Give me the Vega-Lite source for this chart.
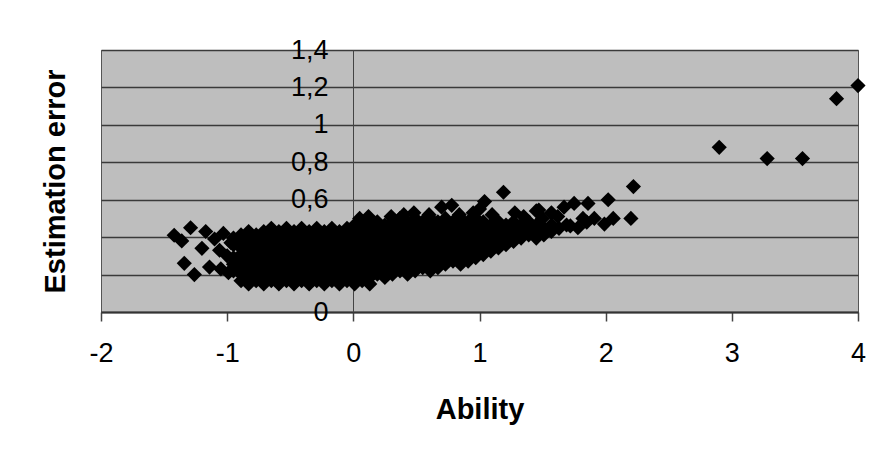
{
"$schema": "https://vega.github.io/schema/vega-lite/v6.json",
"width": 757, "height": 262,
"autosize": {"type": "none"},
"padding": {"left": 101, "top": 50, "right": 31, "bottom": 145},
"background": "white",
"config": {"view": {"fill": "#bebebe", "stroke": "#555555", "strokeWidth": 1}, "font": "Liberation Sans"},
"data": {"values": [
{"ability":-0.95,"error":0.22},{"ability":-0.95,"error":0.255},{"ability":-0.95,"error":0.29},{"ability":-0.95,"error":0.36},{"ability":-0.95,"error":0.395},
{"ability":-0.89,"error":0.167},{"ability":-0.89,"error":0.202},{"ability":-0.89,"error":0.237},{"ability":-0.89,"error":0.272},{"ability":-0.89,"error":0.307},{"ability":-0.89,"error":0.342},{"ability":-0.89,"error":0.377},{"ability":-0.89,"error":0.412},
{"ability":-0.83,"error":0.15},{"ability":-0.83,"error":0.185},{"ability":-0.83,"error":0.22},{"ability":-0.83,"error":0.255},{"ability":-0.83,"error":0.29},{"ability":-0.83,"error":0.325},{"ability":-0.83,"error":0.36},{"ability":-0.83,"error":0.395},{"ability":-0.83,"error":0.43},
{"ability":-0.77,"error":0.167},{"ability":-0.77,"error":0.202},{"ability":-0.77,"error":0.237},{"ability":-0.77,"error":0.272},{"ability":-0.77,"error":0.307},{"ability":-0.77,"error":0.342},{"ability":-0.77,"error":0.377},{"ability":-0.77,"error":0.412},
{"ability":-0.71,"error":0.15},{"ability":-0.71,"error":0.185},{"ability":-0.71,"error":0.22},{"ability":-0.71,"error":0.255},{"ability":-0.71,"error":0.29},{"ability":-0.71,"error":0.325},{"ability":-0.71,"error":0.36},{"ability":-0.71,"error":0.395},{"ability":-0.71,"error":0.43},
{"ability":-0.65,"error":0.167},{"ability":-0.65,"error":0.202},{"ability":-0.65,"error":0.237},{"ability":-0.65,"error":0.272},{"ability":-0.65,"error":0.307},{"ability":-0.65,"error":0.342},{"ability":-0.65,"error":0.377},{"ability":-0.65,"error":0.412},{"ability":-0.65,"error":0.447},
{"ability":-0.59,"error":0.15},{"ability":-0.59,"error":0.185},{"ability":-0.59,"error":0.22},{"ability":-0.59,"error":0.255},{"ability":-0.59,"error":0.29},{"ability":-0.59,"error":0.325},{"ability":-0.59,"error":0.36},{"ability":-0.59,"error":0.395},{"ability":-0.59,"error":0.43},
{"ability":-0.53,"error":0.167},{"ability":-0.53,"error":0.202},{"ability":-0.53,"error":0.237},{"ability":-0.53,"error":0.272},{"ability":-0.53,"error":0.307},{"ability":-0.53,"error":0.342},{"ability":-0.53,"error":0.377},{"ability":-0.53,"error":0.412},{"ability":-0.53,"error":0.447},
{"ability":-0.47,"error":0.15},{"ability":-0.47,"error":0.185},{"ability":-0.47,"error":0.22},{"ability":-0.47,"error":0.255},{"ability":-0.47,"error":0.29},{"ability":-0.47,"error":0.325},{"ability":-0.47,"error":0.36},{"ability":-0.47,"error":0.395},{"ability":-0.47,"error":0.43},
{"ability":-0.41,"error":0.167},{"ability":-0.41,"error":0.202},{"ability":-0.41,"error":0.237},{"ability":-0.41,"error":0.272},{"ability":-0.41,"error":0.307},{"ability":-0.41,"error":0.342},{"ability":-0.41,"error":0.377},{"ability":-0.41,"error":0.412},{"ability":-0.41,"error":0.447},
{"ability":-0.35,"error":0.15},{"ability":-0.35,"error":0.185},{"ability":-0.35,"error":0.22},{"ability":-0.35,"error":0.255},{"ability":-0.35,"error":0.29},{"ability":-0.35,"error":0.325},{"ability":-0.35,"error":0.36},{"ability":-0.35,"error":0.395},{"ability":-0.35,"error":0.43},
{"ability":-0.29,"error":0.167},{"ability":-0.29,"error":0.202},{"ability":-0.29,"error":0.237},{"ability":-0.29,"error":0.272},{"ability":-0.29,"error":0.307},{"ability":-0.29,"error":0.342},{"ability":-0.29,"error":0.377},{"ability":-0.29,"error":0.412},{"ability":-0.29,"error":0.447},
{"ability":-0.23,"error":0.15},{"ability":-0.23,"error":0.185},{"ability":-0.23,"error":0.22},{"ability":-0.23,"error":0.255},{"ability":-0.23,"error":0.29},{"ability":-0.23,"error":0.325},{"ability":-0.23,"error":0.36},{"ability":-0.23,"error":0.395},{"ability":-0.23,"error":0.43},
{"ability":-0.17,"error":0.167},{"ability":-0.17,"error":0.202},{"ability":-0.17,"error":0.237},{"ability":-0.17,"error":0.272},{"ability":-0.17,"error":0.307},{"ability":-0.17,"error":0.342},{"ability":-0.17,"error":0.377},{"ability":-0.17,"error":0.412},{"ability":-0.17,"error":0.447},
{"ability":-0.11,"error":0.15},{"ability":-0.11,"error":0.185},{"ability":-0.11,"error":0.22},{"ability":-0.11,"error":0.255},{"ability":-0.11,"error":0.29},{"ability":-0.11,"error":0.325},{"ability":-0.11,"error":0.36},{"ability":-0.11,"error":0.395},{"ability":-0.11,"error":0.43},
{"ability":-0.05,"error":0.167},{"ability":-0.05,"error":0.202},{"ability":-0.05,"error":0.237},{"ability":-0.05,"error":0.272},{"ability":-0.05,"error":0.307},{"ability":-0.05,"error":0.342},{"ability":-0.05,"error":0.377},{"ability":-0.05,"error":0.412},{"ability":-0.05,"error":0.447},
{"ability":0.01,"error":0.15},{"ability":0.01,"error":0.185},{"ability":0.01,"error":0.22},{"ability":0.01,"error":0.255},{"ability":0.01,"error":0.29},{"ability":0.01,"error":0.325},{"ability":0.01,"error":0.36},{"ability":0.01,"error":0.395},{"ability":0.01,"error":0.43},{"ability":0.01,"error":0.465},
{"ability":0.07,"error":0.167},{"ability":0.07,"error":0.202},{"ability":0.07,"error":0.237},{"ability":0.07,"error":0.272},{"ability":0.07,"error":0.307},{"ability":0.07,"error":0.342},{"ability":0.07,"error":0.377},{"ability":0.07,"error":0.412},{"ability":0.07,"error":0.447},{"ability":0.07,"error":0.482},
{"ability":0.13,"error":0.15},{"ability":0.13,"error":0.185},{"ability":0.13,"error":0.22},{"ability":0.13,"error":0.255},{"ability":0.13,"error":0.29},{"ability":0.13,"error":0.325},{"ability":0.13,"error":0.36},{"ability":0.13,"error":0.395},{"ability":0.13,"error":0.43},{"ability":0.13,"error":0.465},
{"ability":0.19,"error":0.202},{"ability":0.19,"error":0.237},{"ability":0.19,"error":0.272},{"ability":0.19,"error":0.307},{"ability":0.19,"error":0.342},{"ability":0.19,"error":0.377},{"ability":0.19,"error":0.412},{"ability":0.19,"error":0.447},{"ability":0.19,"error":0.482},
{"ability":0.25,"error":0.185},{"ability":0.25,"error":0.22},{"ability":0.25,"error":0.255},{"ability":0.25,"error":0.29},{"ability":0.25,"error":0.325},{"ability":0.25,"error":0.36},{"ability":0.25,"error":0.395},{"ability":0.25,"error":0.43},{"ability":0.25,"error":0.465},
{"ability":0.31,"error":0.202},{"ability":0.31,"error":0.237},{"ability":0.31,"error":0.272},{"ability":0.31,"error":0.307},{"ability":0.31,"error":0.342},{"ability":0.31,"error":0.377},{"ability":0.31,"error":0.412},{"ability":0.31,"error":0.447},{"ability":0.31,"error":0.482},
{"ability":0.37,"error":0.22},{"ability":0.37,"error":0.255},{"ability":0.37,"error":0.29},{"ability":0.37,"error":0.325},{"ability":0.37,"error":0.36},{"ability":0.37,"error":0.395},{"ability":0.37,"error":0.43},{"ability":0.37,"error":0.465},{"ability":0.37,"error":0.5},
{"ability":0.43,"error":0.202},{"ability":0.43,"error":0.237},{"ability":0.43,"error":0.272},{"ability":0.43,"error":0.307},{"ability":0.43,"error":0.342},{"ability":0.43,"error":0.377},{"ability":0.43,"error":0.412},{"ability":0.43,"error":0.447},{"ability":0.43,"error":0.482},
{"ability":0.49,"error":0.22},{"ability":0.49,"error":0.255},{"ability":0.49,"error":0.29},{"ability":0.49,"error":0.325},{"ability":0.49,"error":0.36},{"ability":0.49,"error":0.395},{"ability":0.49,"error":0.43},{"ability":0.49,"error":0.465},{"ability":0.49,"error":0.5},
{"ability":0.55,"error":0.237},{"ability":0.55,"error":0.272},{"ability":0.55,"error":0.307},{"ability":0.55,"error":0.342},{"ability":0.55,"error":0.377},{"ability":0.55,"error":0.412},{"ability":0.55,"error":0.447},{"ability":0.55,"error":0.482},
{"ability":0.61,"error":0.22},{"ability":0.61,"error":0.255},{"ability":0.61,"error":0.29},{"ability":0.61,"error":0.325},{"ability":0.61,"error":0.36},{"ability":0.61,"error":0.395},{"ability":0.61,"error":0.43},{"ability":0.61,"error":0.465},{"ability":0.61,"error":0.5},
{"ability":0.67,"error":0.237},{"ability":0.67,"error":0.272},{"ability":0.67,"error":0.307},{"ability":0.67,"error":0.342},{"ability":0.67,"error":0.377},{"ability":0.67,"error":0.412},{"ability":0.67,"error":0.447},{"ability":0.67,"error":0.482},
{"ability":0.73,"error":0.255},{"ability":0.73,"error":0.29},{"ability":0.73,"error":0.325},{"ability":0.73,"error":0.36},{"ability":0.73,"error":0.395},{"ability":0.73,"error":0.43},{"ability":0.73,"error":0.465},{"ability":0.73,"error":0.5},
{"ability":0.79,"error":0.272},{"ability":0.79,"error":0.307},{"ability":0.79,"error":0.342},{"ability":0.79,"error":0.377},{"ability":0.79,"error":0.412},{"ability":0.79,"error":0.447},{"ability":0.79,"error":0.482},
{"ability":0.85,"error":0.255},{"ability":0.85,"error":0.29},{"ability":0.85,"error":0.325},{"ability":0.85,"error":0.36},{"ability":0.85,"error":0.395},{"ability":0.85,"error":0.43},{"ability":0.85,"error":0.465},{"ability":0.85,"error":0.5},
{"ability":0.91,"error":0.272},{"ability":0.91,"error":0.307},{"ability":0.91,"error":0.342},{"ability":0.91,"error":0.377},{"ability":0.91,"error":0.412},{"ability":0.91,"error":0.447},{"ability":0.91,"error":0.482},
{"ability":0.97,"error":0.29},{"ability":0.97,"error":0.325},{"ability":0.97,"error":0.36},{"ability":0.97,"error":0.395},{"ability":0.97,"error":0.43},{"ability":0.97,"error":0.465},{"ability":0.97,"error":0.5},
{"ability":1.03,"error":0.307},{"ability":1.03,"error":0.342},{"ability":1.03,"error":0.377},{"ability":1.03,"error":0.412},{"ability":1.03,"error":0.447},{"ability":1.03,"error":0.482},
{"ability":1.09,"error":0.325},{"ability":1.09,"error":0.36},{"ability":1.09,"error":0.395},{"ability":1.09,"error":0.43},{"ability":1.09,"error":0.465},
{"ability":1.15,"error":0.342},{"ability":1.15,"error":0.377},{"ability":1.15,"error":0.412},{"ability":1.15,"error":0.447},{"ability":1.15,"error":0.482},
{"ability":1.21,"error":0.36},{"ability":1.21,"error":0.395},{"ability":1.21,"error":0.43},{"ability":1.21,"error":0.465},
{"ability":1.27,"error":0.377},{"ability":1.27,"error":0.412},{"ability":1.27,"error":0.447},{"ability":1.27,"error":0.482},
{"ability":1.33,"error":0.395},{"ability":1.33,"error":0.43},{"ability":1.33,"error":0.465},
{"ability":1.39,"error":0.412},{"ability":1.39,"error":0.447},{"ability":1.39,"error":0.482},
{"ability":1.45,"error":0.395},{"ability":1.45,"error":0.43},{"ability":1.45,"error":0.465},
{"ability":1.51,"error":0.412},{"ability":1.51,"error":0.447},
{"ability":1.57,"error":0.43},{"ability":1.57,"error":0.465},
{"ability":1.63,"error":0.447},
{"ability":1.69,"error":0.465},
{"ability":-1.42,"error":0.41},{"ability":-1.36,"error":0.38},{"ability":-1.29,"error":0.45},{"ability":-1.34,"error":0.26},{"ability":-1.26,"error":0.2},{"ability":-1.17,"error":0.43},{"ability":-1.2,"error":0.34},{"ability":-1.14,"error":0.24},{"ability":-1.05,"error":0.23},{"ability":-1.03,"error":0.42},{"ability":-1.06,"error":0.33},{"ability":-0.99,"error":0.21},{"ability":-1.1,"error":0.39},{"ability":-1.0,"error":0.3},{"ability":-0.97,"error":0.37},
{"ability":0.05,"error":0.5},{"ability":0.12,"error":0.51},{"ability":0.3,"error":0.51},{"ability":0.4,"error":0.52},{"ability":0.48,"error":0.53},{"ability":0.6,"error":0.52},{"ability":0.7,"error":0.56},{"ability":0.78,"error":0.57},{"ability":0.84,"error":0.52},{"ability":0.95,"error":0.53},{"ability":1.0,"error":0.55},{"ability":1.04,"error":0.59},{"ability":1.1,"error":0.52},{"ability":1.19,"error":0.64},{"ability":1.28,"error":0.53},{"ability":1.35,"error":0.51},{"ability":1.45,"error":0.54},{"ability":1.47,"error":0.545},{"ability":1.5,"error":0.5},{"ability":1.57,"error":0.53},{"ability":1.62,"error":0.51},{"ability":1.67,"error":0.56},{"ability":1.72,"error":0.46},{"ability":1.75,"error":0.58},{"ability":1.78,"error":0.45},{"ability":1.82,"error":0.5},{"ability":1.86,"error":0.58},{"ability":1.85,"error":0.48},{"ability":1.91,"error":0.5},{"ability":1.99,"error":0.47},{"ability":2.06,"error":0.5},{"ability":2.02,"error":0.6},{"ability":2.2,"error":0.5},{"ability":2.22,"error":0.67},{"ability":2.9,"error":0.88},{"ability":3.28,"error":0.82},{"ability":3.56,"error":0.82},{"ability":3.83,"error":1.14},{"ability":4.0,"error":1.21}
]},
"mark": {"type": "point", "shape": "diamond", "filled": true, "color": "black", "size": 230, "opacity": 1, "clip": false},
"encoding": {
  "x": {"field": "ability", "type": "quantitative",
    "scale": {"domain": [-2, 4], "nice": false, "zero": false},
    "axis": {"values": [-2, -1, 0, 1, 2, 3, 4], "grid": false, "labelExpr": "toString(datum.value)", "labelFontSize": 27, "labelColor": "black", "labelPadding": 19, "labelFlush": false, "labelOverlap": false, "tickSize": 9, "tickColor": "#444444", "tickWidth": 1.5, "domainColor": "#333333", "domainWidth": 2, "title": "Ability", "titleFontSize": 29, "titleFontWeight": "bold", "titleColor": "black", "titleBaseline": "alphabetic", "titleY": 106}},
  "y": {"field": "error", "type": "quantitative",
    "scale": {"domain": [0, 1.4], "nice": false},
    "axis": {"values": [0, 0.2, 0.4, 0.6, 0.8, 1, 1.2, 1.4], "offset": -252, "ticks": false, "labelPadding": 25, "labelFontSize": 27, "labelColor": "black", "labelFlush": false, "labelOverlap": false, "labelExpr": "replace(toString(datum.value), '.', ',')", "grid": true, "gridColor": "#3a3a3a", "gridWidth": 1.5, "domainColor": "#444444", "domainWidth": 1, "title": "Estimation error", "titleFontSize": 29, "titleFontWeight": "bold", "titleColor": "black", "titleAngle": -90, "titleBaseline": "alphabetic", "titleX": -289}}
}
}
